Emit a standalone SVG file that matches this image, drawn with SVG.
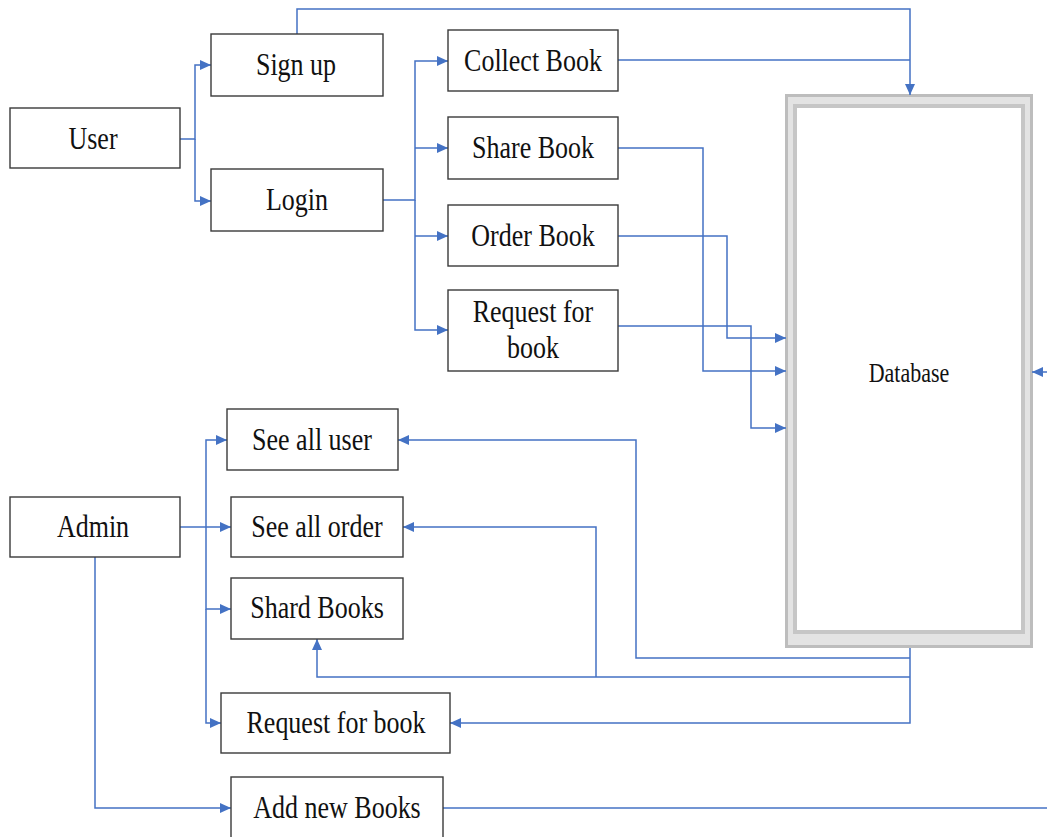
<svg xmlns="http://www.w3.org/2000/svg" width="1047" height="837" viewBox="0 0 1047 837">
<style>
.box{fill:#fff;stroke:#3a3a3a;stroke-width:1.4}
text{font-family:'Liberation Serif','Times New Roman','DejaVu Serif',serif;font-size:26px;fill:#111;text-anchor:middle}
.db{font-size:22px}
.c{fill:none;stroke:#4472C4;stroke-width:1.5}
</style>
<defs>
<marker id="ah" markerUnits="userSpaceOnUse" markerWidth="12" markerHeight="10" refX="11" refY="5" orient="auto">
<path d="M0,0 L11,5 L0,10 Z" fill="#4472C4"/>
</marker>
</defs>
<rect width="1047" height="837" fill="#fff"/>

<g id="database">
<rect x="786.5" y="95.5" width="245" height="551" fill="#e3e3e3" stroke="#bdbdbd" stroke-width="3"/>
<rect x="795" y="106" width="228" height="526" fill="#fff" stroke="#c6c6c6" stroke-width="4"/>
<text class="db" font-family="Liberation Serif, serif" transform="translate(909,382) scale(1,1.2)">Database</text>
</g>

<g id="connectors">
<path class="c" d="M180,139 H195 V65 H211" marker-end="url(#ah)"/>
<path class="c" d="M195,139 V201 H211" marker-end="url(#ah)"/>
<path class="c" d="M297,34 V9 H910 V95" marker-end="url(#ah)"/>
<path class="c" d="M618,60 H910"/>
<path class="c" d="M383,200 H415 V61 H448" marker-end="url(#ah)"/>
<path class="c" d="M415,148 H448" marker-end="url(#ah)"/>
<path class="c" d="M415,200 V330 H448" marker-end="url(#ah)"/>
<path class="c" d="M415,236 H448" marker-end="url(#ah)"/>
<path class="c" d="M618,148 H703 V371 H786" marker-end="url(#ah)"/>
<path class="c" d="M618,236 H727 V338 H786" marker-end="url(#ah)"/>
<path class="c" d="M618,326 H751 V428 H786" marker-end="url(#ah)"/>
<path class="c" d="M180,527 H231" marker-end="url(#ah)"/>
<path class="c" d="M206,527 V440 H227" marker-end="url(#ah)"/>
<path class="c" d="M206,527 V609 H231" marker-end="url(#ah)"/>
<path class="c" d="M206,609 V723 H221" marker-end="url(#ah)"/>
<path class="c" d="M95,557 V808 H231" marker-end="url(#ah)"/>
<path class="c" d="M443,808 H1047"/>
<path class="c" d="M1047,372 H1032" marker-end="url(#ah)"/>
<path class="c" d="M910,648 V723 H450" marker-end="url(#ah)"/>
<path class="c" d="M910,658 H636 V440 H398" marker-end="url(#ah)"/>
<path class="c" d="M910,677 H317 V639" marker-end="url(#ah)"/>
<path class="c" d="M596,677 V527 H403" marker-end="url(#ah)"/>
</g>

<g id="user"><rect class="box" x="10" y="108" width="170" height="60"/><text transform="translate(93,149) scale(1,1.2)">User</text></g>
<g id="signup"><rect class="box" x="211" y="34" width="172" height="62"/><text transform="translate(296,75) scale(1,1.2)">Sign up</text></g>
<g id="login"><rect class="box" x="211" y="169" width="172" height="62"/><text transform="translate(297,210) scale(1,1.2)">Login</text></g>
<g id="collect"><rect class="box" x="448" y="30" width="170" height="61"/><text transform="translate(533,71) scale(1,1.2)">Collect Book</text></g>
<g id="share"><rect class="box" x="448" y="117" width="170" height="62"/><text transform="translate(533,158) scale(1,1.2)">Share Book</text></g>
<g id="order"><rect class="box" x="448" y="205" width="170" height="61"/><text transform="translate(533,246) scale(1,1.2)">Order Book</text></g>
<g id="request-user"><rect class="box" x="448" y="290" width="170" height="81"/><text transform="translate(533,322) scale(1,1.2)">Request for</text><text transform="translate(533,358) scale(1,1.2)">book</text></g>
<g id="admin"><rect class="box" x="10" y="497" width="170" height="60"/><text transform="translate(93,537) scale(1,1.2)">Admin</text></g>
<g id="seeuser"><rect class="box" x="227" y="409" width="171" height="61"/><text transform="translate(312,450) scale(1,1.2)">See all user</text></g>
<g id="seeorder"><rect class="box" x="231" y="497" width="172" height="60"/><text transform="translate(317,537) scale(1,1.2)">See all order</text></g>
<g id="shard"><rect class="box" x="231" y="578" width="172" height="61"/><text transform="translate(317,618) scale(1,1.2)">Shard Books</text></g>
<g id="request-admin"><rect class="box" x="221" y="693" width="229" height="60"/><text transform="translate(336,733) scale(1,1.2)">Request for book</text></g>
<g id="addnew"><rect class="box" x="231" y="777" width="212" height="70"/><text transform="translate(337,818) scale(1,1.2)">Add new Books</text></g>
</svg>
